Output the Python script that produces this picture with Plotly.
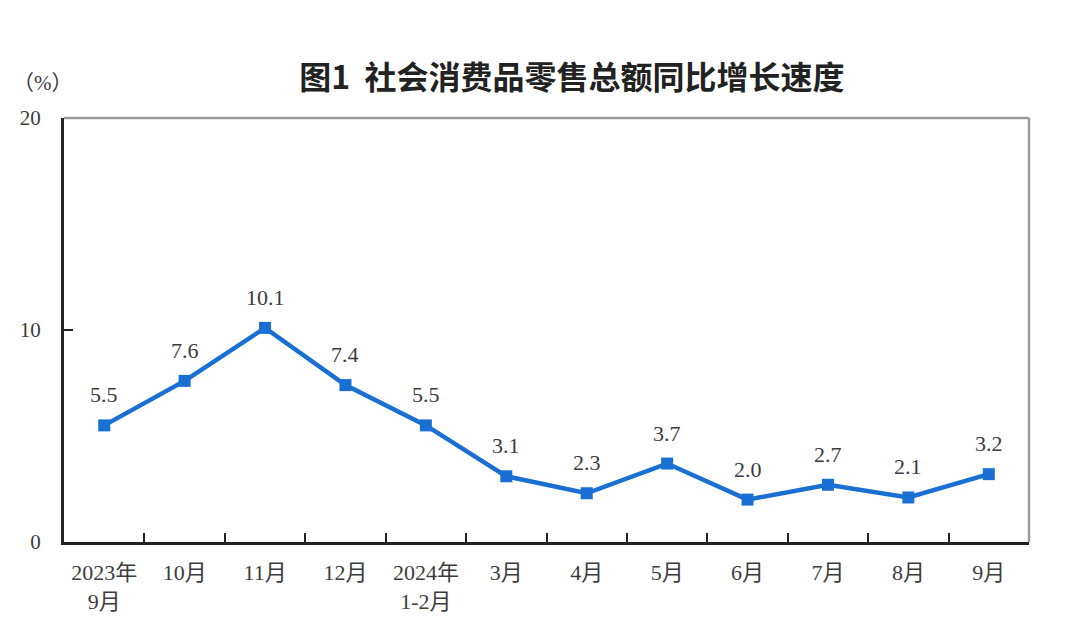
import plotly.graph_objects as go

# Data: year-on-year growth of total retail sales of consumer goods (%)
months = ["2023年<br>9月", "10月", "11月", "12月", "2024年<br>1-2月", "3月",
          "4月", "5月", "6月", "7月", "8月", "9月"]
growth = [5.5, 7.6, 10.1, 7.4, 5.5, 3.1, 2.3, 3.7, 2.0, 2.7, 2.1, 3.2]
y_ticks = [0, 10, 20]

line_blue = "#1a6fd3"
text_grey = "#3c3c3c"
serif = "Liberation Serif, Noto Sans CJK SC"

fig = go.Figure()

fig.add_trace(go.Scatter(
    x=months,
    y=growth,
    mode="lines+markers",
    line=dict(color=line_blue, width=4.5),
    marker=dict(symbol="square", size=12, color=line_blue),
    hoverinfo="x+y",
))

# value labels above each point
for m, v in zip(months, growth):
    fig.add_annotation(x=m, y=v, text=f"{v:.1f}", showarrow=False,
                       yanchor="bottom", yshift=16,
                       font=dict(family=serif, size=22, color=text_grey))

# Top and right edges of the frame are lighter grey
fig.add_shape(type="line", xref="paper", yref="paper", x0=0, x1=1, y0=1, y1=1,
              line=dict(color="#9a9a9a", width=2.5))
fig.add_shape(type="line", xref="paper", yref="paper", x0=1, x1=1, y0=0, y1=1,
              line=dict(color="#9a9a9a", width=2.5))

fig.add_annotation(text="（%）", xref="paper", yref="paper", x=-0.022, y=1.083,
                   xanchor="center", yanchor="middle",
                   showarrow=False, font=dict(family=serif, size=21, color=text_grey))

fig.update_layout(
    title=dict(text="<b>图1  社会消费品零售总额同比增长速度</b>", x=0.526, y=0.887,
               xanchor="center", yanchor="middle",
               font=dict(family="Noto Sans CJK SC", size=32, color="#222222")),
    width=1072,
    height=621,
    margin=dict(l=53, r=51, t=110, b=87),
    plot_bgcolor="white",
    paper_bgcolor="white",
    showlegend=False,
    xaxis=dict(
        type="category",
        range=[-0.5, len(months) - 0.5],
        tickson="boundaries",
        ticks="inside",
        ticklen=9,
        tickwidth=2,
        tickcolor="#222222",
        showline=True,
        linecolor="#222222",
        linewidth=3,
        showgrid=False,
        ticklabelstandoff=9,
        tickfont=dict(family=serif, size=22, color=text_grey),
    ),
    yaxis=dict(
        range=[0, 20],
        tickvals=y_ticks,
        ticks="inside",
        ticklen=9,
        tickwidth=2,
        tickcolor="#222222",
        showline=True,
        linecolor="#222222",
        linewidth=3,
        showgrid=False,
        zeroline=False,
        ticklabelstandoff=16,
        tickfont=dict(family=serif, size=21, color=text_grey),
    ),
)

fig.write_html("out.html")
